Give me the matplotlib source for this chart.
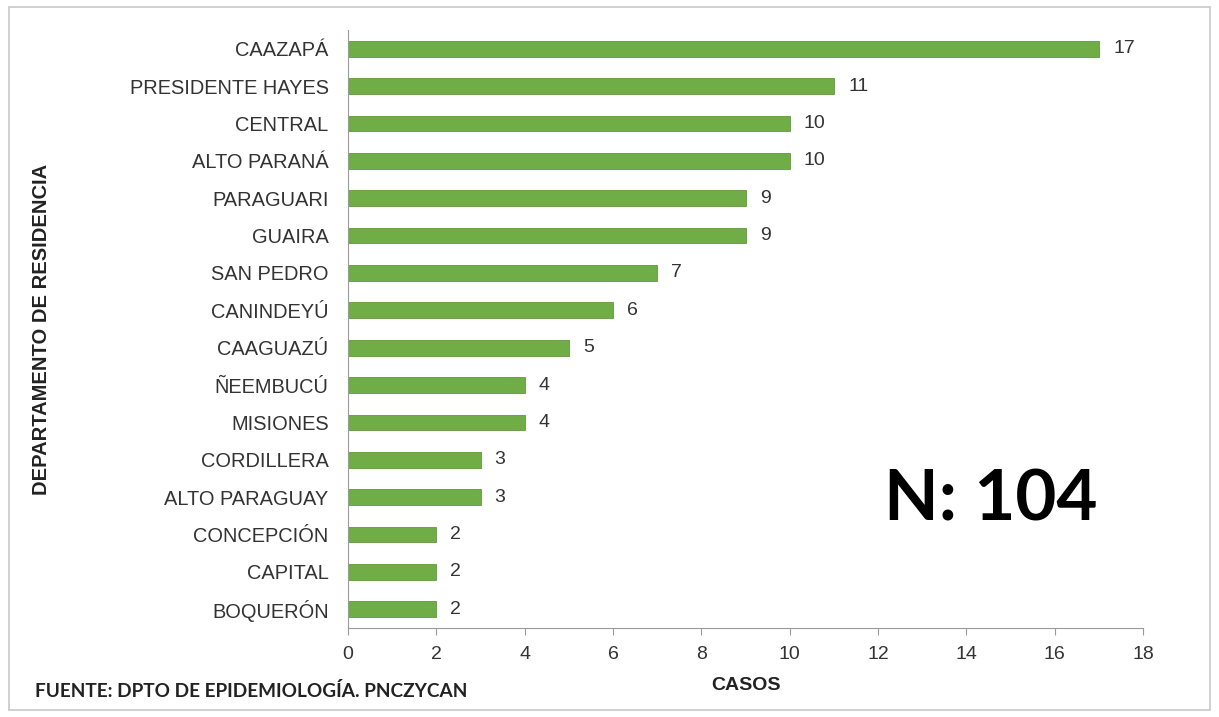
# Gráfico de casos por departamento de residencia
import matplotlib.pyplot as plt
from matplotlib.patches import Rectangle

departamentos = ['CAAZAPÁ', 'PRESIDENTE HAYES', 'CENTRAL', 'ALTO PARANÁ', 'PARAGUARI',
                 'GUAIRA', 'SAN PEDRO', 'CANINDEYÚ', 'CAAGUAZÚ', 'ÑEEMBUCÚ', 'MISIONES',
                 'CORDILLERA', 'ALTO PARAGUAY', 'CONCEPCIÓN', 'CAPITAL', 'BOQUERÓN']
casos = [17, 11, 10, 10, 9, 9, 7, 6, 5, 4, 4, 3, 3, 2, 2, 2]
xticks = [0, 2, 4, 6, 8, 10, 12, 14, 16, 18]

color_barra = '#70AD47'
color_eje = '#9a9a9a'
color_texto = '#333333'

plt.rcParams['font.family'] = 'sans-serif'
plt.rcParams['font.sans-serif'] = ['Liberation Sans']

fig = plt.figure(figsize=(12.19, 7.17), dpi=100)
ax = fig.add_axes([0.2855, 0.1241, 0.6522, 0.834])

pos = list(range(len(departamentos)))
ax.barh(pos, casos, height=0.42, color=color_barra, edgecolor='#5f9a3a', linewidth=0.6)

# Etiquetas de valor
for y, v in zip(pos, casos):
    ax.text(v + 0.32, y, str(v), va='center', ha='left', fontsize=14, color=color_texto)

ax.set_yticks(pos)
ax.set_yticklabels(departamentos, fontsize=14.4, color=color_texto)
ax.set_ylim(len(departamentos) - 0.5, -0.5)
ax.set_xlim(0, 18)
ax.set_xticks(xticks)
ax.set_xticklabels([str(t) for t in xticks], fontsize=14, color=color_texto)

for s in ['top', 'right']:
    ax.spines[s].set_visible(False)
ax.spines['left'].set_color(color_eje)
ax.spines['bottom'].set_color(color_eje)
ax.tick_params(axis='y', length=0, pad=14)
ax.tick_params(axis='x', length=5, color=color_eje, pad=8)

ax.set_xlabel('CASOS', fontsize=14, fontweight='bold', labelpad=10, color='#222222')
fig.text(0.034, 0.54, 'DEPARTAMENTO DE RESIDENCIA', rotation=90, fontsize=14.5,
         fontweight='bold', va='center', ha='center', color='#222222')

fig.text(0.029, 0.036, 'FUENTE: DPTO DE EPIDEMIOLOGÍA. PNCZYCAN', fontsize=13.7,
         fontweight='bold', family=['Lato', 'DejaVu Sans'], va='center', ha='left', color='#222222')

ax.text(14.56, 12.08, 'N: 104', fontsize=51, fontweight='bold', family=['Lato', 'DejaVu Sans'],
        va='center', ha='center', color='black')

# Borde exterior
fig.patches.append(Rectangle((0.007, 0.01), 0.986, 0.98, transform=fig.transFigure,
                             fill=False, edgecolor='#c8c8c8', linewidth=1.2))

plt.savefig('out.png', dpi=100)
